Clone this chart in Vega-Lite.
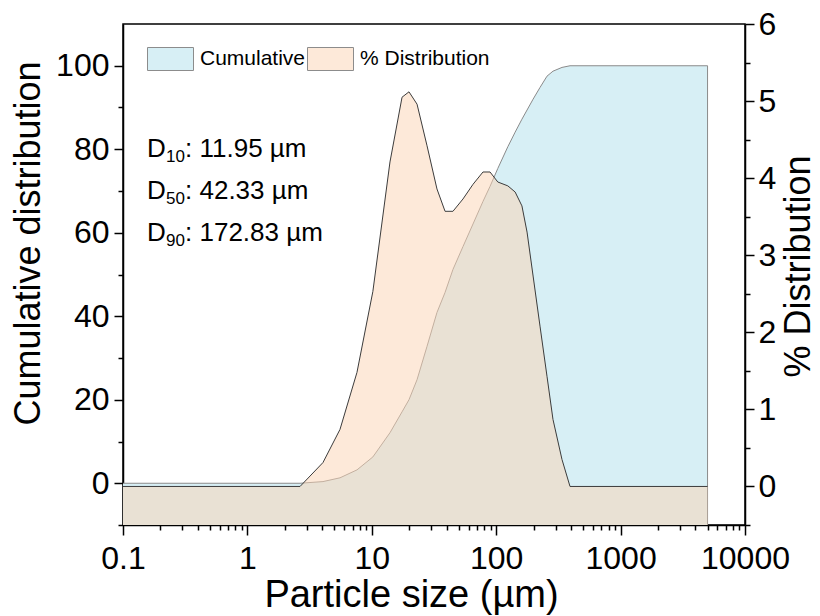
{
  "$schema": "https://vega.github.io/schema/vega-lite/v6.json",
  "width": 622,
  "height": 501,
  "autosize": {"type": "none"},
  "padding": {"left": 123, "top": 24, "right": 75, "bottom": 91},
  "background": "white",
  "config": {
    "view": {"stroke": "black", "strokeWidth": 1.5},
    "font": "Liberation Sans",
    "axis": {
      "domainColor": "black", "domainWidth": 1.5, "tickColor": "black", "tickWidth": 1.5,
      "labelFont": "Liberation Sans", "labelFontSize": 32, "labelColor": "black",
      "titleFont": "Liberation Sans", "titleFontSize": 36, "titleFontWeight": "normal", "titleColor": "black",
      "grid": false
    }
  },
  "datasets": {
    "cum": [
      {"size": 0.1, "cumulative": 0}, {"size": 2.65, "cumulative": 0}, {"size": 4.05, "cumulative": 0.4},
      {"size": 5.55, "cumulative": 1.3}, {"size": 7.6, "cumulative": 3.2}, {"size": 10.2, "cumulative": 6.3},
      {"size": 14.0, "cumulative": 12.1}, {"size": 17.5, "cumulative": 17.1}, {"size": 19.9, "cumulative": 20},
      {"size": 23.1, "cumulative": 24.8}, {"size": 27.8, "cumulative": 32.8}, {"size": 33.4, "cumulative": 40.9},
      {"size": 38.8, "cumulative": 45.7}, {"size": 44.9, "cumulative": 51.2}, {"size": 54.1, "cumulative": 56.7},
      {"size": 65.1, "cumulative": 62.1}, {"size": 78.3, "cumulative": 67.5}, {"size": 89.2, "cumulative": 71.1},
      {"size": 103, "cumulative": 75.4}, {"size": 124, "cumulative": 80.6}, {"size": 142, "cumulative": 84.1},
      {"size": 161, "cumulative": 87.2}, {"size": 177, "cumulative": 89.4}, {"size": 198, "cumulative": 92},
      {"size": 225, "cumulative": 94.8}, {"size": 256, "cumulative": 97.5}, {"size": 286, "cumulative": 98.7},
      {"size": 338, "cumulative": 99.6}, {"size": 392, "cumulative": 100}, {"size": 5000, "cumulative": 100},
      {"size": 5000, "cumulative": -10}
    ],
    "dist": [
      {"size": 0.1, "distribution": 0}, {"size": 2.65, "distribution": 0}, {"size": 4.05, "distribution": 0.31},
      {"size": 5.55, "distribution": 0.74}, {"size": 7.6, "distribution": 1.48}, {"size": 10.2, "distribution": 2.53},
      {"size": 14.0, "distribution": 4.21}, {"size": 17.5, "distribution": 5.05}, {"size": 19.9, "distribution": 5.12},
      {"size": 23.1, "distribution": 4.96}, {"size": 27.8, "distribution": 4.42}, {"size": 33.4, "distribution": 3.86},
      {"size": 38.8, "distribution": 3.57}, {"size": 44.9, "distribution": 3.57}, {"size": 54.1, "distribution": 3.73},
      {"size": 65.1, "distribution": 3.92}, {"size": 78.3, "distribution": 4.08}, {"size": 89.2, "distribution": 4.08},
      {"size": 103, "distribution": 3.95}, {"size": 124, "distribution": 3.9}, {"size": 142, "distribution": 3.82},
      {"size": 161, "distribution": 3.64}, {"size": 177, "distribution": 3.3}, {"size": 198, "distribution": 2.73},
      {"size": 225, "distribution": 2.08}, {"size": 256, "distribution": 1.43}, {"size": 286, "distribution": 0.87},
      {"size": 338, "distribution": 0.35}, {"size": 392, "distribution": 0}, {"size": 5000, "distribution": 0}
    ],
    "notes": [
      {"px": 0.156, "py": 80, "main": "D", "sub": "10", "rest": ": 11.95 µm"},
      {"px": 0.156, "py": 70, "main": "D", "sub": "50", "rest": ": 42.33 µm"},
      {"px": 0.156, "py": 60, "main": "D", "sub": "90", "rest": ": 172.83 µm"}
    ]
  },
  "layer": [
    {
      "layer": [
        {
          "data": {"name": "cum"},
          "mark": {"type": "area", "interpolate": "linear"},
          "encoding": {
            "x": {"field": "size", "type": "quantitative",
              "scale": {"type": "log", "domain": [0.1, 10000], "nice": false},
              "axis": {
                "title": "Particle size (µm)", "titlePadding": 2, "titleFontSize": 38, "titleX": 288,
                "values": [0.1,0.2,0.3,0.4,0.5,0.6,0.7,0.8,0.9,1,2,3,4,5,6,7,8,9,10,20,30,40,50,60,70,80,90,100,200,300,400,500,600,700,800,900,1000,2000,3000,4000,5000,6000,7000,8000,9000,10000],
                "labelExpr": "indexof([0.1,1,10,100,1000,10000], datum.value) >= 0 ? '' + datum.value : ''",
                "tickSize": {"condition": {"test": "indexof([0.1,1,10,100,1000,10000], datum.value) >= 0", "value": 10}, "value": 5},
                "labelPadding": 8, "labelFlush": false, "labelOverlap": false
              }
            },
            "y": {"field": "cumulative", "type": "quantitative",
              "scale": {"domain": [-10, 110], "nice": false, "zero": false},
              "axis": {
                "title": "Cumulative distribution", "orient": "left", "titlePadding": 8, "titleY": 219,
                "values": [0, 20, 40, 60, 80, 100], "tickSize": 9, "format": "d",
                "labelPadding": 5
              }
            },
            "y2": {"datum": -10},
            "color": {"datum": "Cumulative", "type": "nominal",
              "scale": {"domain": ["Cumulative", "% Distribution"], "range": ["#d7eff5", "rgba(251,211,179,0.5)"]},
              "legend": {
                "orient": "none", "legendX": 24, "legendY": 11.5, "direction": "horizontal", "title": null,
                "symbolType": "M-1,-0.5H1V0.5H-1Z", "symbolSize": 2116,
                "symbolStrokeColor": "#8c8c8c", "symbolStrokeWidth": 1,
                "labelFont": "Liberation Sans", "labelFontSize": 21, "labelColor": "black",
                "labelOffset": 6, "columnPadding": -1, "padding": 0
              }
            }
          }
        },
        {
          "data": {"name": "cum"},
          "mark": {"type": "line", "color": "#8a8a8a", "strokeWidth": 1},
          "encoding": {
            "x": {"field": "size", "type": "quantitative"},
            "y": {"field": "cumulative", "type": "quantitative"}
          }
        },
        {
          "data": {"name": "notes"},
          "mark": {"type": "text", "align": "left", "baseline": "middle", "fontSize": 26, "font": "Liberation Sans", "color": "black"},
          "encoding": {
            "x": {"field": "px", "type": "quantitative"},
            "y": {"field": "py", "type": "quantitative"},
            "text": {"field": "main"}
          }
        },
        {
          "data": {"name": "notes"},
          "mark": {"type": "text", "align": "left", "baseline": "middle", "fontSize": 17, "font": "Liberation Sans", "color": "black", "dx": 19, "dy": 8},
          "encoding": {
            "x": {"field": "px", "type": "quantitative"},
            "y": {"field": "py", "type": "quantitative"},
            "text": {"field": "sub"}
          }
        },
        {
          "data": {"name": "notes"},
          "mark": {"type": "text", "align": "left", "baseline": "middle", "fontSize": 26, "font": "Liberation Sans", "color": "black", "dx": 38},
          "encoding": {
            "x": {"field": "px", "type": "quantitative"},
            "y": {"field": "py", "type": "quantitative"},
            "text": {"field": "rest"}
          }
        }
      ]
    },
    {
      "layer": [
        {
          "data": {"name": "dist"},
          "mark": {"type": "area", "interpolate": "linear"},
          "encoding": {
            "x": {"field": "size", "type": "quantitative"},
            "y": {"field": "distribution", "type": "quantitative",
              "scale": {"domain": [-0.5, 6], "nice": false, "zero": false},
              "axis": {
                "title": "% Distribution", "orient": "right", "titleAngle": 270, "titleBaseline": "top",
                "titlePadding": 6, "titleY": 242,
                "values": [0, 1, 2, 3, 4, 5, 6], "tickSize": 9, "format": "d",
                "labelPadding": 4
              }
            },
            "y2": {"datum": -0.5},
            "color": {"datum": "% Distribution", "type": "nominal"}
          }
        },
        {
          "data": {"name": "dist"},
          "mark": {"type": "line", "color": "#3c3c3c", "strokeWidth": 1},
          "encoding": {
            "x": {"field": "size", "type": "quantitative"},
            "y": {"field": "distribution", "type": "quantitative"}
          }
        }
      ]
    },
    {
      "data": {"name": "cum"},
      "mark": {"type": "point", "opacity": 0},
      "encoding": {
        "x": {"field": "size", "type": "quantitative"},
        "y": {"field": "cumulative", "type": "quantitative",
          "scale": {"domain": [-10, 110], "nice": false, "zero": false},
          "axis": {"orient": "left", "title": null, "labels": false, "domain": false, "tickSize": 5,
            "values": [-10, 10, 30, 50, 70, 90]}
        }
      }
    },
    {
      "data": {"name": "dist"},
      "mark": {"type": "point", "opacity": 0},
      "encoding": {
        "x": {"field": "size", "type": "quantitative"},
        "y": {"field": "distribution", "type": "quantitative",
          "scale": {"domain": [-0.5, 6], "nice": false, "zero": false},
          "axis": {"orient": "right", "title": null, "labels": false, "domain": false, "tickSize": 5,
            "values": [-0.5, 0.5, 1.5, 2.5, 3.5, 4.5, 5.5]}
        }
      }
    }
  ],
  "resolve": {"scale": {"y": "independent"}, "axis": {"y": "independent"}}
}
